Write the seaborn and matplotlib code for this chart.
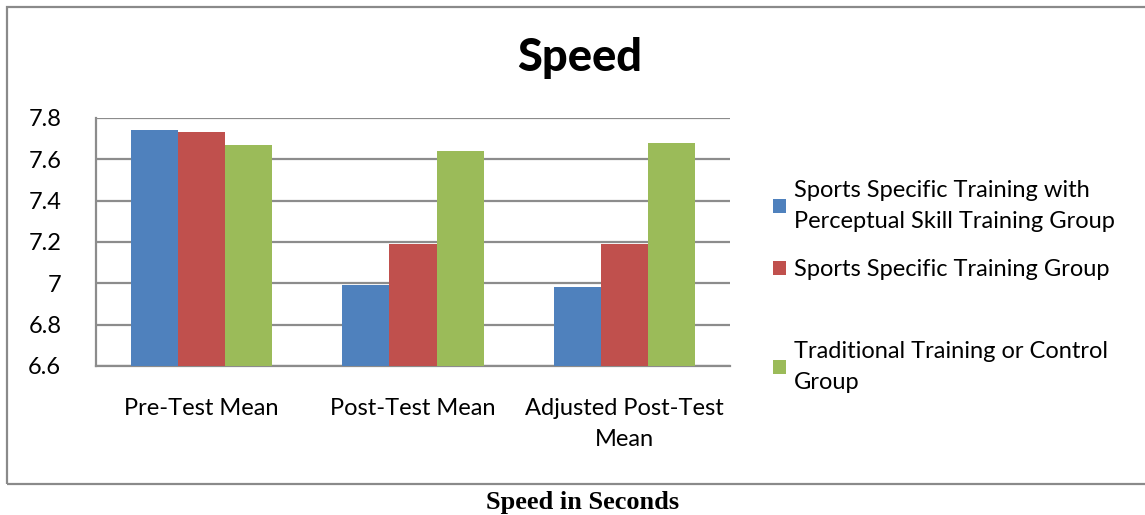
import matplotlib
matplotlib.use("Agg")
import matplotlib.pyplot as plt
import matplotlib.patches as mpatches
import seaborn as sns
import pandas as pd

categories = ["Pre-Test Mean", "Post-Test Mean", "Adjusted Post-Test\nMean"]
groups = ["Sports Specific Training with\nPerceptual Skill Training Group",
          "Sports Specific Training Group",
          "Traditional Training or Control\nGroup"]
perceptual = [7.74, 6.99, 6.98]
sports_specific = [7.73, 7.19, 7.19]
traditional = [7.67, 7.64, 7.68]
colors = ["#4F81BD", "#C0504D", "#9BBB59"]
yticks = [6.6, 6.8, 7.0, 7.2, 7.4, 7.6, 7.8]
ytick_labels = ["6.6", "6.8", "7", "7.2", "7.4", "7.6", "7.8"]

rows = []
for g, vals in zip(groups, [perceptual, sports_specific, traditional]):
    for c, v in zip(categories, vals):
        rows.append({"category": c, "group": g, "value": v})
df = pd.DataFrame(rows)

sns.set_style("white")
plt.rcParams["font.family"] = ["Lato", "DejaVu Sans"]
plt.rcParams["text.color"] = "black"

W, H = 1145, 515
fig = plt.figure(figsize=(W / 100, H / 100), dpi=100)

# outer chart frame
frame = mpatches.Rectangle((7 / W, (H - 484) / H), 1.2, 477 / H,
                           transform=fig.transFigure, fill=False,
                           edgecolor="#8a8a8a", linewidth=1.6, zorder=0)
fig.patches.append(frame)

ax = fig.add_axes([96 / W, (H - 366) / H, (730 - 96) / W, (366 - 118) / H])
sns.barplot(data=df, x="category", y="value", hue="group", order=categories,
            hue_order=groups, palette=colors, width=0.67, saturation=1,
            ax=ax, legend=True, zorder=3, edgecolor="none")

ax.set_ylim(6.6, 7.8)
ax.set_xlim(-0.5, 2.5)
ax.set_yticks(yticks)
ax.set_yticklabels(ytick_labels)
ax.yaxis.grid(True, color="#8c8c8c", linewidth=1.6, zorder=0)
ax.set_axisbelow(True)
ax.set_xlabel("")
ax.set_ylabel("")
for s in ["top", "right"]:
    ax.spines[s].set_visible(False)
for s in ["left", "bottom"]:
    ax.spines[s].set_color("#8c8c8c")
    ax.spines[s].set_linewidth(1.6)
ax.tick_params(axis="y", length=0, pad=25, labelsize=17, labelcolor="black")
ax.tick_params(axis="x", length=0, pad=23, labelsize=17, labelcolor="black")
for lbl in ax.get_xticklabels():
    lbl.set_linespacing(1.6)

handles, labels = ax.get_legend_handles_labels()
ax.get_legend().remove()
legend_y = [206, 270, 367]
for h, l, yy in zip(handles, labels, legend_y):
    leg = fig.legend([h], [l], loc="center left",
                     bbox_to_anchor=(773 / W, (H - yy) / H),
                     frameon=False, fontsize=17, handlelength=0.55,
                     handleheight=0.55, handletextpad=0.35,
                     borderaxespad=0, borderpad=0)
    for t in leg.get_texts():
        t.set_linespacing(1.62)
        t.set_color("black")

fig.text(580 / W, (H - 58) / H, "Speed", ha="center", va="center",
         fontsize=32.5, fontweight="black", color="black")
fig.text(583 / W, (H - 503) / H, "Speed in Seconds", ha="center", va="center",
         fontsize=19, fontweight="bold", color="black",
         family=["Liberation Serif", "DejaVu Serif"])

fig.savefig("out.png", dpi=100)
